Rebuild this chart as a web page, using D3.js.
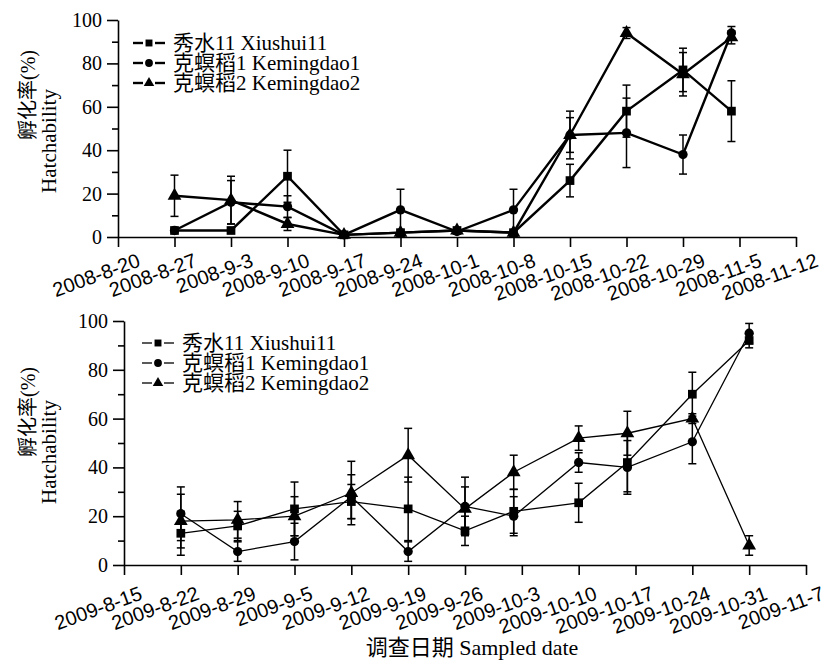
<!DOCTYPE html>
<html>
<head>
<meta charset="utf-8">
<title></title>
<style type="text/css">
  body { margin: 0; background: #fff; }
  svg { display: block; }
  .serif { font-family: "Liberation Serif", "Noto Sans CJK SC", serif; }
</style>
<script src="https://cdn.jsdelivr.net/npm/d3@7"></script>
</head>
<body>
<svg width="829" height="662"></svg>
<script>
// legend names
var seriesNames = ["秀水11 Xiushui11", "克螟稻1 Kemingdao1", "克螟稻2 Kemingdao2"];

// 2008 panel
var dates2008 = ["2008-8-27","2008-9-3","2008-9-10","2008-9-17","2008-9-24","2008-10-1","2008-10-8","2008-10-15","2008-10-22","2008-10-29","2008-11-4"];
var xiushui2008 = [3, 3, 28, 1, 2, 3, 2, 26, 58, 77, 58];
var xiushui2008Err = [0, 0, 12, 0, 0, 0, 0, 7.5, 12, 10, 14];
var keming1_2008 = [3, 16, 14, 1, 12.5, 2.5, 12.5, 47, 48, 38, 94];
var keming1_2008Err = [0, 10, 5, 0, 9.5, 0, 9.5, 11, 16, 9, 3];
var keming2_2008 = [19, 17, 6, 1, 2, 3, 2, 47, 94, 75, 92];
var keming2_2008Err = [9.5, 11, 3, 0, 0, 0, 0, 8, 2.5, 10, 3];
var ticks2008 = ["2008-8-20","2008-8-27","2008-9-3","2008-9-10","2008-9-17","2008-9-24","2008-10-1","2008-10-8","2008-10-15","2008-10-22","2008-10-29","2008-11-5","2008-11-12"];

// 2009 panel
var dates2009 = ["2009-8-22","2009-8-29","2009-9-5","2009-9-12","2009-9-19","2009-9-26","2009-10-2","2009-10-10","2009-10-16","2009-10-24","2009-10-31"];
var xiushui2009 = [13, 16, 23, 26, 23, 14, 22, 25.5, 42, 70, 92];
var xiushui2009Err = [9, 6, 11, 7, 13, 6, 9, 8, 12, 9, 3];
var keming1_2009 = [21, 5.5, 9.6, 28, 5.5, 24, 20, 42, 40, 50.5, 95];
var keming1_2009Err = [11, 4, 7.5, 9, 4, 12, 8, 4, 11, 9, 4];
var keming2_2009 = [18, 18.5, 20, 29.5, 45, 23, 38, 52, 54, 60, 8];
var keming2_2009Err = [11, 7.5, 8, 13, 11, 9, 7, 5, 9, 2, 4];
var ticks2009 = ["2009-8-15","2009-8-22","2009-8-29","2009-9-5","2009-9-12","2009-9-19","2009-9-26","2009-10-3","2009-10-10","2009-10-17","2009-10-24","2009-10-31","2009-11-7"];

var yMajor = [0, 20, 40, 60, 80, 100];
var yMinor = [10, 30, 50, 70, 90];

var parse = d3.timeParse("%Y-%m-%d");
var svg = d3.select("svg");
var shapes = [d3.symbolSquare, d3.symbolCircle, d3.symbolTriangle];
var shapeSize = [76, 68, 82];

function drawPanel(p) {
    var g = svg.append("g");
    var tickDates = p.ticks.map(parse);
    var x = d3.scaleTime().domain([tickDates[0], tickDates[tickDates.length - 1]]).range([p.left, p.right]);
    var y = d3.scaleLinear().domain([0, 100]).range([p.bottom, p.top]);

    // y axis
    var ya = g.append("g").attr("transform", "translate(" + p.left + ",0)")
        .call(d3.axisLeft(y).tickValues(yMajor).tickSize(11).tickSizeOuter(0).tickPadding(5));
    ya.selectAll("text").attr("class", "serif").style("font-size", "20px").attr("fill", "#000");
    g.append("g").attr("transform", "translate(" + p.left + ",0)")
        .call(d3.axisLeft(y).tickValues(yMinor).tickSize(6).tickFormat(""))
        .select(".domain").remove();

    // x axis
    var xa = g.append("g").attr("transform", "translate(0," + p.bottom + ")")
        .call(d3.axisBottom(x).tickValues(tickDates).tickSize(10).tickSizeOuter(0)
            .tickFormat(function(d, i) { return p.ticks[i]; }));
    xa.selectAll("text")
        .attr("x", 0).attr("y", 0).attr("dy", 0)
        .attr("text-anchor", "end")
        .attr("transform", "translate(" + p.lx + "," + p.ly + ") rotate(-20)")
        .style("font-family", "'Liberation Sans', Arial, sans-serif")
        .style("font-size", "20px").attr("fill", "#000");
    g.selectAll(".domain, .tick line").attr("stroke", "#000").attr("stroke-width", 1.6);

    // y axis titles
    g.append("text").attr("class", "serif")
        .attr("transform", "translate(" + p.t1x + "," + p.t1y + ") rotate(-90)")
        .attr("text-anchor", "middle").style("font-size", "20px").text("孵化率(%)");
    g.append("text").attr("class", "serif")
        .attr("transform", "translate(" + p.t2x + "," + p.t2y + ") rotate(-90)")
        .attr("text-anchor", "middle").style("font-size", "21px").text("Hatchability");

    var dates = p.dates.map(parse);
    var line = d3.line().x(function(d) { return x(d.date); }).y(function(d) { return y(d.v); });

    p.series.forEach(function(s, k) {
        var pts = s.values.map(function(v, i) { return { date: dates[i], v: v, e: s.err[i] }; });
        var sg = g.append("g");
        sg.append("path").datum(pts).attr("d", line)
            .attr("fill", "none").attr("stroke", "#000").attr("stroke-width", p.lw);
        var eb = sg.selectAll(".eb").data(pts.filter(function(d) { return d.e > 0; })).enter().append("g");
        eb.append("line")
            .attr("x1", function(d) { return x(d.date); }).attr("x2", function(d) { return x(d.date); })
            .attr("y1", function(d) { return y(d.v - d.e); }).attr("y2", function(d) { return y(d.v + d.e); })
            .attr("stroke", "#000").attr("stroke-width", 1.5);
        [-1, 1].forEach(function(sgn) {
            eb.append("line")
                .attr("x1", function(d) { return x(d.date) - 4; }).attr("x2", function(d) { return x(d.date) + 4; })
                .attr("y1", function(d) { return y(d.v + sgn * d.e); }).attr("y2", function(d) { return y(d.v + sgn * d.e); })
                .attr("stroke", "#000").attr("stroke-width", 1.5);
        });
        sg.selectAll(".mk").data(pts).enter().append("path")
            .attr("d", d3.symbol().type(shapes[k]).size(shapeSize[k]))
            .attr("transform", function(d) { return "translate(" + x(d.date) + "," + y(d.v) + ")"; })
            .attr("fill", "#000");
    });

    // legend
    seriesNames.forEach(function(name, k) {
        var ly = p.legY + k * 20;
        var lx = p.legX;
        g.append("line").attr("x1", lx).attr("x2", lx + 10).attr("y1", ly).attr("y2", ly)
            .attr("stroke", "#000").attr("stroke-width", p.legLw);
        g.append("line").attr("x1", lx + 22).attr("x2", lx + 32).attr("y1", ly).attr("y2", ly)
            .attr("stroke", "#000").attr("stroke-width", p.legLw);
        g.append("path").attr("d", d3.symbol().type(shapes[k]).size(48))
            .attr("transform", "translate(" + (lx + 16) + "," + ly + ")");
        g.append("text").attr("class", "serif").attr("x", lx + 40).attr("y", ly + 7)
            .style("font-size", "21px").text(name);
    });
}

drawPanel({
    ticks: ticks2008, dates: dates2008, left: 118, right: 796, top: 20, bottom: 237,
    lx: 23, ly: 29, lw: 2.4, legX: 133, legY: 43, legLw: 2.4,
    t1x: 35, t1y: 95, t2x: 56, t2y: 141,
    series: [
        { values: xiushui2008, err: xiushui2008Err },
        { values: keming1_2008, err: keming1_2008Err },
        { values: keming2_2008, err: keming2_2008Err }
    ]
});

drawPanel({
    ticks: ticks2009, dates: dates2009, left: 124, right: 806, top: 321, bottom: 565,
    lx: 19, ly: 34, lw: 1.3, legX: 142, legY: 343, legLw: 1.3,
    t1x: 35, t1y: 412, t2x: 56, t2y: 452,
    series: [
        { values: xiushui2009, err: xiushui2009Err },
        { values: keming1_2009, err: keming1_2009Err },
        { values: keming2_2009, err: keming2_2009Err }
    ]
});

svg.append("text").attr("class", "serif").attr("x", 472).attr("y", 655)
    .attr("text-anchor", "middle").style("font-size", "22px").text("调查日期 Sampled date");
</script>
</body>
</html>
